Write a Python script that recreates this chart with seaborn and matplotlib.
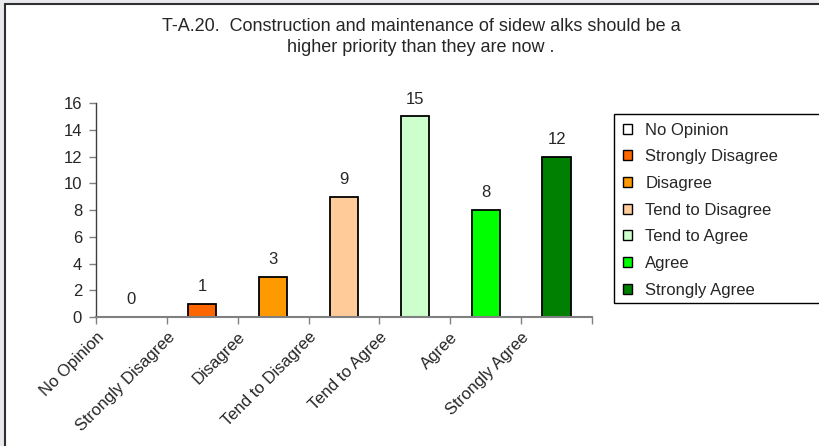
import matplotlib
matplotlib.use("Agg")
import matplotlib.pyplot as plt
import matplotlib.transforms as mtransforms
import seaborn as sns
import pandas as pd
from matplotlib.patches import Patch, Rectangle


TITLE = "T-A.20.  Construction and maintenance of sidew alks should be a\nhigher priority than they are now ."

categories = ["No Opinion", "Strongly Disagree", "Disagree", "Tend to Disagree",
              "Tend to Agree", "Agree", "Strongly Agree"]
counts = [0, 1, 3, 9, 15, 8, 12]
colors = ["#FFFFFF", "#FF6600", "#FF9900", "#FFCC99", "#CCFFCC", "#00FF00", "#008000"]
y_ticks = [0, 2, 4, 6, 8, 10, 12, 14, 16]

FS = 12


def main():
    sns.set_style("white")
    plt.rcParams["font.family"] = ["Liberation Sans", "DejaVu Sans"]

    df = pd.DataFrame({"category": categories, "count": counts})
    palette = dict(zip(categories, colors))

    fig = plt.figure(figsize=(8.2, 4.46), dpi=100)
    W, H = 820, 446

    # grey outer frame + dark edge like the screenshot
    fig.patches.append(Rectangle((0, 0), 5 / W, 1, transform=fig.transFigure,
                                 facecolor="#E8EAED", edgecolor="none", zorder=0))
    fig.patches.append(Rectangle((0, 1 - 3 / H), 1, 3 / H, transform=fig.transFigure,
                                 facecolor="#E8EAED", edgecolor="none", zorder=0))
    fig.add_artist(plt.Line2D([5.5 / W, 5.5 / W], [0, 1 - 3.5 / H], transform=fig.transFigure,
                              color="#303030", lw=1.5))
    fig.add_artist(plt.Line2D([5.5 / W, 1], [1 - 3.5 / H, 1 - 3.5 / H], transform=fig.transFigure,
                              color="#303030", lw=1.5))

    ax = fig.add_axes([96 / W, 1 - 317 / H, (592 - 96) / W, (317 - 103) / H])

    sns.barplot(data=df, x="category", y="count", hue="category", palette=palette,
                order=categories, hue_order=categories, width=0.4, dodge=False,
                edgecolor="black", linewidth=1.3, legend=False, saturation=1, ax=ax)

    for i, v in enumerate(counts):
        ax.annotate(str(v), (i, v), xytext=(0, 7), textcoords="offset points",
                    ha="center", va="bottom", fontsize=FS)

    ax.set_ylim(0, 16)
    ax.set_xlim(-0.5, len(categories) - 0.5)
    ax.set_yticks(y_ticks)
    ax.set_yticklabels([str(t) for t in y_ticks], fontsize=FS)
    ax.set_xticks([i - 0.5 for i in range(len(categories) + 1)])
    ax.set_xticklabels(categories + [""], fontsize=FS, rotation=45,
                       ha="right", va="top", rotation_mode="anchor")
    shift = mtransforms.ScaledTranslation(10 / 100, 0, fig.dpi_scale_trans)
    for lab in ax.get_xticklabels():
        lab.set_transform(lab.get_transform() + shift)
    ax.tick_params(axis="both", length=5, width=1, color="#808080", direction="out",
                   bottom=True, left=True)
    ax.tick_params(axis="y", pad=5)
    ax.tick_params(axis="x", pad=4)
    ax.set_xlabel("")
    ax.set_ylabel("")

    for side in ["top", "right"]:
        ax.spines[side].set_visible(False)
    ax.spines["left"].set_color("#404040")
    ax.spines["bottom"].set_color("#808080")
    ax.spines["left"].set_linewidth(1)
    ax.spines["bottom"].set_linewidth(1.5)

    fig.text(421 / W, 1 - 37 / H, TITLE, ha="center", va="center", fontsize=13,
             linespacing=1.25)

    # legend box runs past the right edge, as in the reference
    fig.patches.append(Rectangle((614 / W, 1 - 303 / H), 230 / W, (303 - 114) / H,
                                 transform=fig.transFigure, facecolor="white",
                                 edgecolor="black", lw=1, zorder=1))
    handles = [Patch(facecolor=c, edgecolor="black", linewidth=1) for c in colors]
    leg = fig.legend(handles, categories, loc="upper left",
                     bbox_to_anchor=(611 / W, 1 - 111 / H), frameon=False,
                     fontsize=FS, handlelength=0.55, handleheight=0.55,
                     handletextpad=0.8, labelspacing=0.7, borderpad=0.2)
    leg.set_zorder(2)

    fig.savefig("out.png", dpi=100)
    plt.close(fig)


if __name__ == "__main__":
    main()
